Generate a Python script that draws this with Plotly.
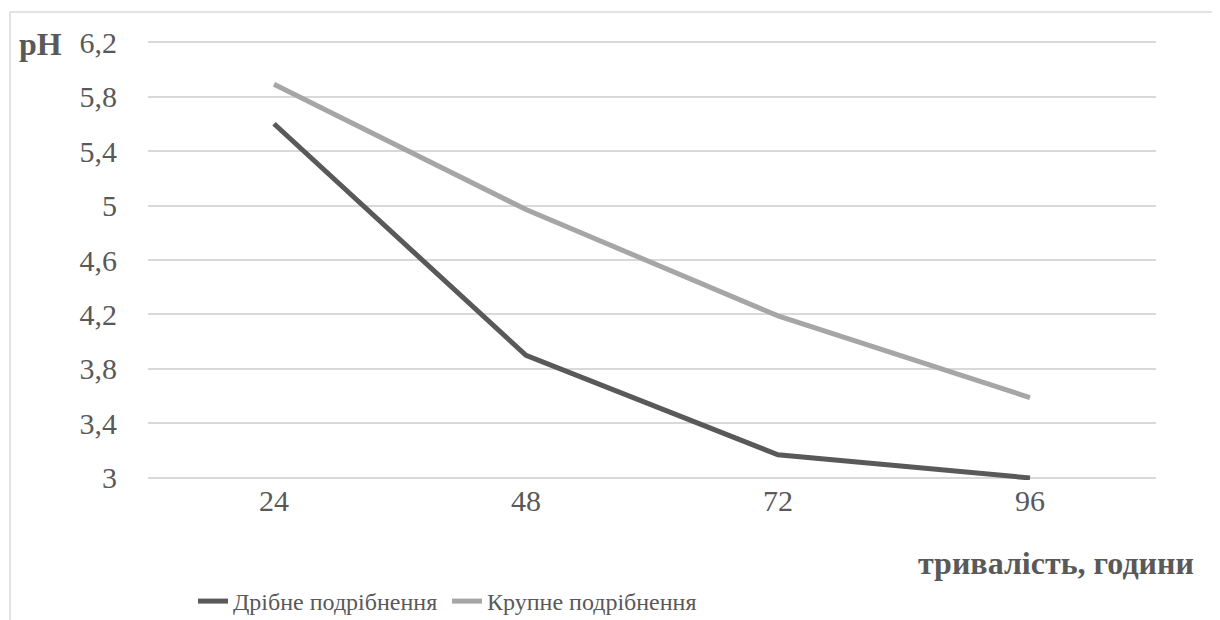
import plotly.graph_objects as go

categories = ["24", "48", "72", "96"]
fine = [5.6, 3.9, 3.17, 3.0]
coarse = [5.89, 4.97, 4.19, 3.59]
series_names = ["Дрібне подрібнення", "Крупне подрібнення"]
y_tickvals = [3.0, 3.4, 3.8, 4.2, 4.6, 5.0, 5.4, 5.8, 6.2]
y_ticktext = ["3", "3,4", "3,8", "4,2", "4,6", "5", "5,4", "5,8", "6,2"]

FONT = "Liberation Serif"
TXT = "#595959"

# page body has an 8px margin: figure is drawn from (8, 8)
OFF = 8
W, H = 1220 - OFF, 620 - OFF
ml, mr, mt, mb = 148 - OFF, 1220 - 1156, 40 - OFF, 620 - 480
pw, ph = W - ml - mr, H - mt - mb

fig = go.Figure()
fig.add_trace(go.Scatter(x=categories, y=fine, name=series_names[0], mode="lines",
                         line=dict(color="#595959", width=5)))
fig.add_trace(go.Scatter(x=categories, y=coarse, name=series_names[1], mode="lines",
                         line=dict(color="#a6a6a6", width=5)))

def px_x(p):
    return (p - OFF - ml) / pw

def px_y(p):
    return 1 - (p - OFF - mt) / ph

fig.update_layout(
    width=W, height=H,
    margin=dict(l=ml, r=mr, t=mt, b=mb, autoexpand=False),
    paper_bgcolor="white", plot_bgcolor="white",
    font=dict(family=FONT, color=TXT, size=30),
    showlegend=True,
    legend=dict(orientation="h", xref="container", yref="container",
                x=(193 - OFF) / W, xanchor="left", y=1 - (579 - OFF) / H, yanchor="top",
                font=dict(size=24, color=TXT, family=FONT), entrywidth=209,
                tracegroupgap=0, itemwidth=30),
    xaxis=dict(type="category", range=[-0.5, 3.5], showgrid=False, zeroline=False,
               showline=False, ticks="", tickfont=dict(size=30, color=TXT, family=FONT)),
    yaxis=dict(range=[2.985, 6.215], tickvals=y_tickvals, ticktext=y_ticktext,
               showgrid=True, gridcolor="#d9d9d9", gridwidth=1.5, zeroline=False,
               showline=False, ticks="", ticklabelstandoff=30,
               tickfont=dict(size=30, color=TXT, family=FONT)),
    annotations=[
        dict(text="<b>pH</b>", xref="paper", yref="paper", x=px_x(17), y=px_y(44),
             xanchor="left", yanchor="middle", showarrow=False,
             font=dict(size=32, color=TXT, family=FONT)),
        dict(text="<b>тривалість, години</b>", xref="paper", yref="paper",
             x=px_x(1196), y=px_y(563), xanchor="right", yanchor="middle", showarrow=False,
             font=dict(size=32, color=TXT, family=FONT)),
    ],
    shapes=[
        dict(type="rect", xref="paper", yref="paper", x0=px_x(10), x1=px_x(1240),
             y0=px_y(650), y1=px_y(12), line=dict(color="#d9d9d9", width=1.5),
             fillcolor="rgba(0,0,0,0)", layer="below"),
    ],
)

fig.write_html("out.html")
